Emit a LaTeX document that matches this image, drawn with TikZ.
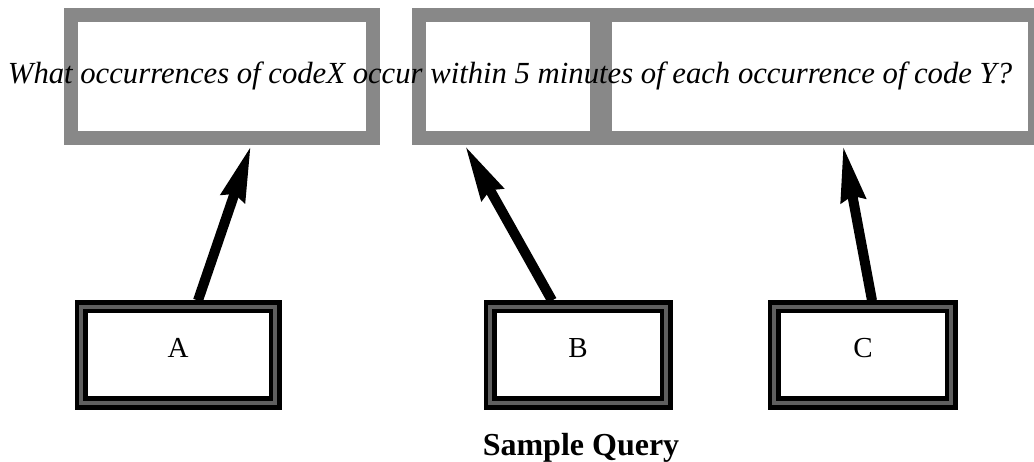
\documentclass[tikz,border=0pt]{standalone}
\usepackage{fontspec}
\setmainfont{Liberation Serif}
\usetikzlibrary{arrows.meta}
\definecolor{boxgray}{HTML}{888888}
\begin{document}
\begin{tikzpicture}[x=1pt,y=-1pt,
  qbox/.style={draw=boxgray,line width=14pt,rectangle,inner sep=0pt},
  lbl/.style={draw=black,line width=13pt,rectangle,inner sep=0pt,minimum width=194pt,minimum height=96pt,
    postaction={draw=boxgray!70!black,line width=3.5pt}},
  arr/.style={line width=10pt,-{Stealth[length=55pt,width=24pt,inset=4pt]}},
]
\useasboundingbox[fill=white] (0,0) rectangle (1034,462);
\node[qbox,minimum width=302pt,minimum height=123.5pt] (q1) at (222,76.75) {};
\node[qbox,minimum width=178pt,minimum height=123.5pt] (q2) at (508,76.75) {};
\node[qbox,minimum width=430pt,minimum height=123.5pt] (q3) at (820,76.75) {};
\node[inner sep=0pt] (q) at (510,76) {\resizebox{1004pt}{!}{\itshape What occurrences of codeX occur within 5 minutes of each occurrence of code Y?}};
\node[lbl] (A) at (178,355) {};
\node[lbl,minimum width=176pt] (B) at (578,355) {};
\node[lbl,minimum width=177pt] (C) at (862.5,355) {};
\node[font=\fontsize{29}{32}\selectfont,anchor=base] (la) at (178,358) {A};
\node[font=\fontsize{29}{32}\selectfont,anchor=base] (lb) at (578,358) {B};
\node[font=\fontsize{29}{32}\selectfont,anchor=base] (lc) at (863,358) {C};
\draw[arr] ([xshift=20pt]A.north) -- ([xshift=29pt]q1.south);
\draw[arr] ([xshift=-26pt]B.north) -- ([xshift=-43pt]q2.south);
\draw[arr] ([xshift=9.5pt]C.north) -- ([xshift=23pt]q3.south);
\node[font=\fontsize{32}{36}\selectfont\bfseries,anchor=base] (cap) at (581,455) {Sample Query};
\end{tikzpicture}
\end{document}
